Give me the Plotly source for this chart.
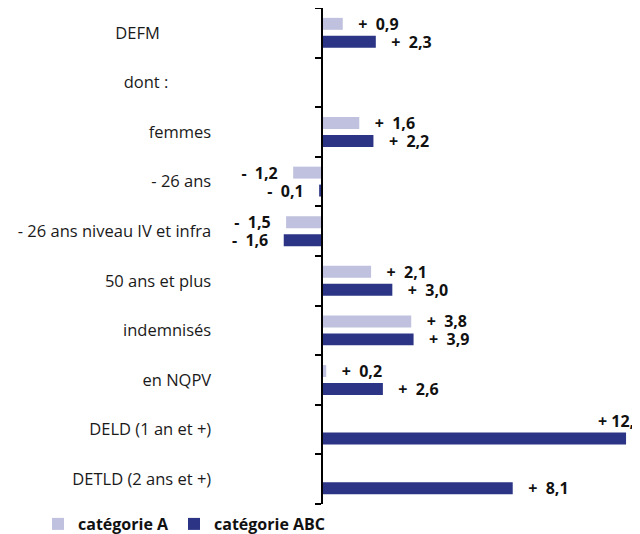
import plotly.graph_objects as go

categories = ["DEFM", "dont :", "femmes", "- 26 ans", "- 26 ans niveau IV et infra",
              "50 ans et plus", "indemnisés", "en NQPV", "DELD (1 an et +)", "DETLD (2 ans et +)"]
tick_labels = ["DEFM" + "\u00a0" * 12, "dont :" + "\u00a0" * 10, "femmes", "- 26 ans",
               "- 26 ans niveau IV et infra", "50 ans et plus", "indemnisés", "en NQPV",
               "DELD (1 an et +)", "DETLD (2 ans et +)"]
cat_a = [0.9, None, 1.6, -1.2, -1.5, 2.1, 3.8, 0.2, None, None]
cat_abc = [2.3, None, 2.2, -0.1, -1.6, 3.0, 3.9, 2.6, 12.9, 8.1]
series_names = ["catégorie A", "catégorie ABC"]
colors = ["#bfc1de", "#2c3585"]

FONT = "Open Sans"
LABEL_SIZE = 16.5
VALUE_SIZE = 16
PAD = "\u00a0" * 3


def fmt(v):
    s = f"{abs(v):.1f}".replace(".", ",")
    sign = "+" if v >= 0 else "-"
    return f"{sign}\u00a0\u00a0{s}"


def texts(vals):
    out = []
    for v in vals:
        if v is None:
            out.append("")
        elif v >= 0:
            out.append(PAD + fmt(v))
        else:
            out.append(fmt(v) + PAD)
    return out


# the page adds an 8px body margin; the figure overflows the window on the right/bottom
W, H = 640, 540
PLOT_BOTTOM = 496
XMIN, XMAX = -13.28, 13.83

fig = go.Figure()
for name, vals, col in zip(series_names, [cat_a, cat_abc], colors):
    tp = ["outside"] * len(vals)
    if vals is cat_abc:
        tp[categories.index("DELD (1 an et +)")] = "none"
    fig.add_trace(go.Bar(
        y=categories, x=vals, name=name, orientation="h",
        marker=dict(color=col, line=dict(width=0)),
        text=texts(vals), textposition=tp,
        textfont=dict(family=FONT, size=VALUE_SIZE, color="#111111", weight="bold"),
        cliponaxis=False, constraintext="none",
    ))

# label of the DELD bar, placed above the bar
i_deld = categories.index("DELD (1 an et +)")
v_deld = cat_abc[i_deld]
fig.add_annotation(
    x=v_deld, y=categories[i_deld], xref="x", yref="y",
    text="+ " + f"{v_deld:.1f}".replace(".", ","), showarrow=False,
    xanchor="left", xshift=-30, yshift=9,
    font=dict(family=FONT, size=VALUE_SIZE, color="#111111", weight="bold"),
)

fig.update_layout(
    width=W, height=H,
    margin=dict(l=0, r=0, t=0, b=H - PLOT_BOTTOM),
    paper_bgcolor="white", plot_bgcolor="white",
    barmode="group", bargap=0.277, bargroupgap=1 / 3,
    font=dict(family=FONT, size=LABEL_SIZE, color="#1a1a1a"),
    showlegend=True,
    legend=dict(orientation="h", x=30 / W, xanchor="left", y=-20 / PLOT_BOTTOM, yanchor="middle",
                font=dict(family=FONT, size=VALUE_SIZE, color="#111111", weight="bold"),
                itemwidth=30, traceorder="normal"),
    xaxis=dict(range=[XMIN, XMAX], showgrid=False, zeroline=False, showline=False,
               showticklabels=False, ticks="", fixedrange=True),
    yaxis=dict(type="category", categoryorder="array", categoryarray=categories,
               tickvals=categories, ticktext=tick_labels,
               autorange="reversed", anchor="free", position=(0 - XMIN) / (XMAX - XMIN),
               showline=True, linecolor="black", linewidth=2,
               ticks="outside", tickson="boundaries", ticklen=6, tickwidth=2, tickcolor="black",
               ticklabelstandoff=106, showgrid=False, automargin=False,
               tickfont=dict(family=FONT, size=LABEL_SIZE, color="#1a1a1a")),
)

fig.write_html("out.html")
